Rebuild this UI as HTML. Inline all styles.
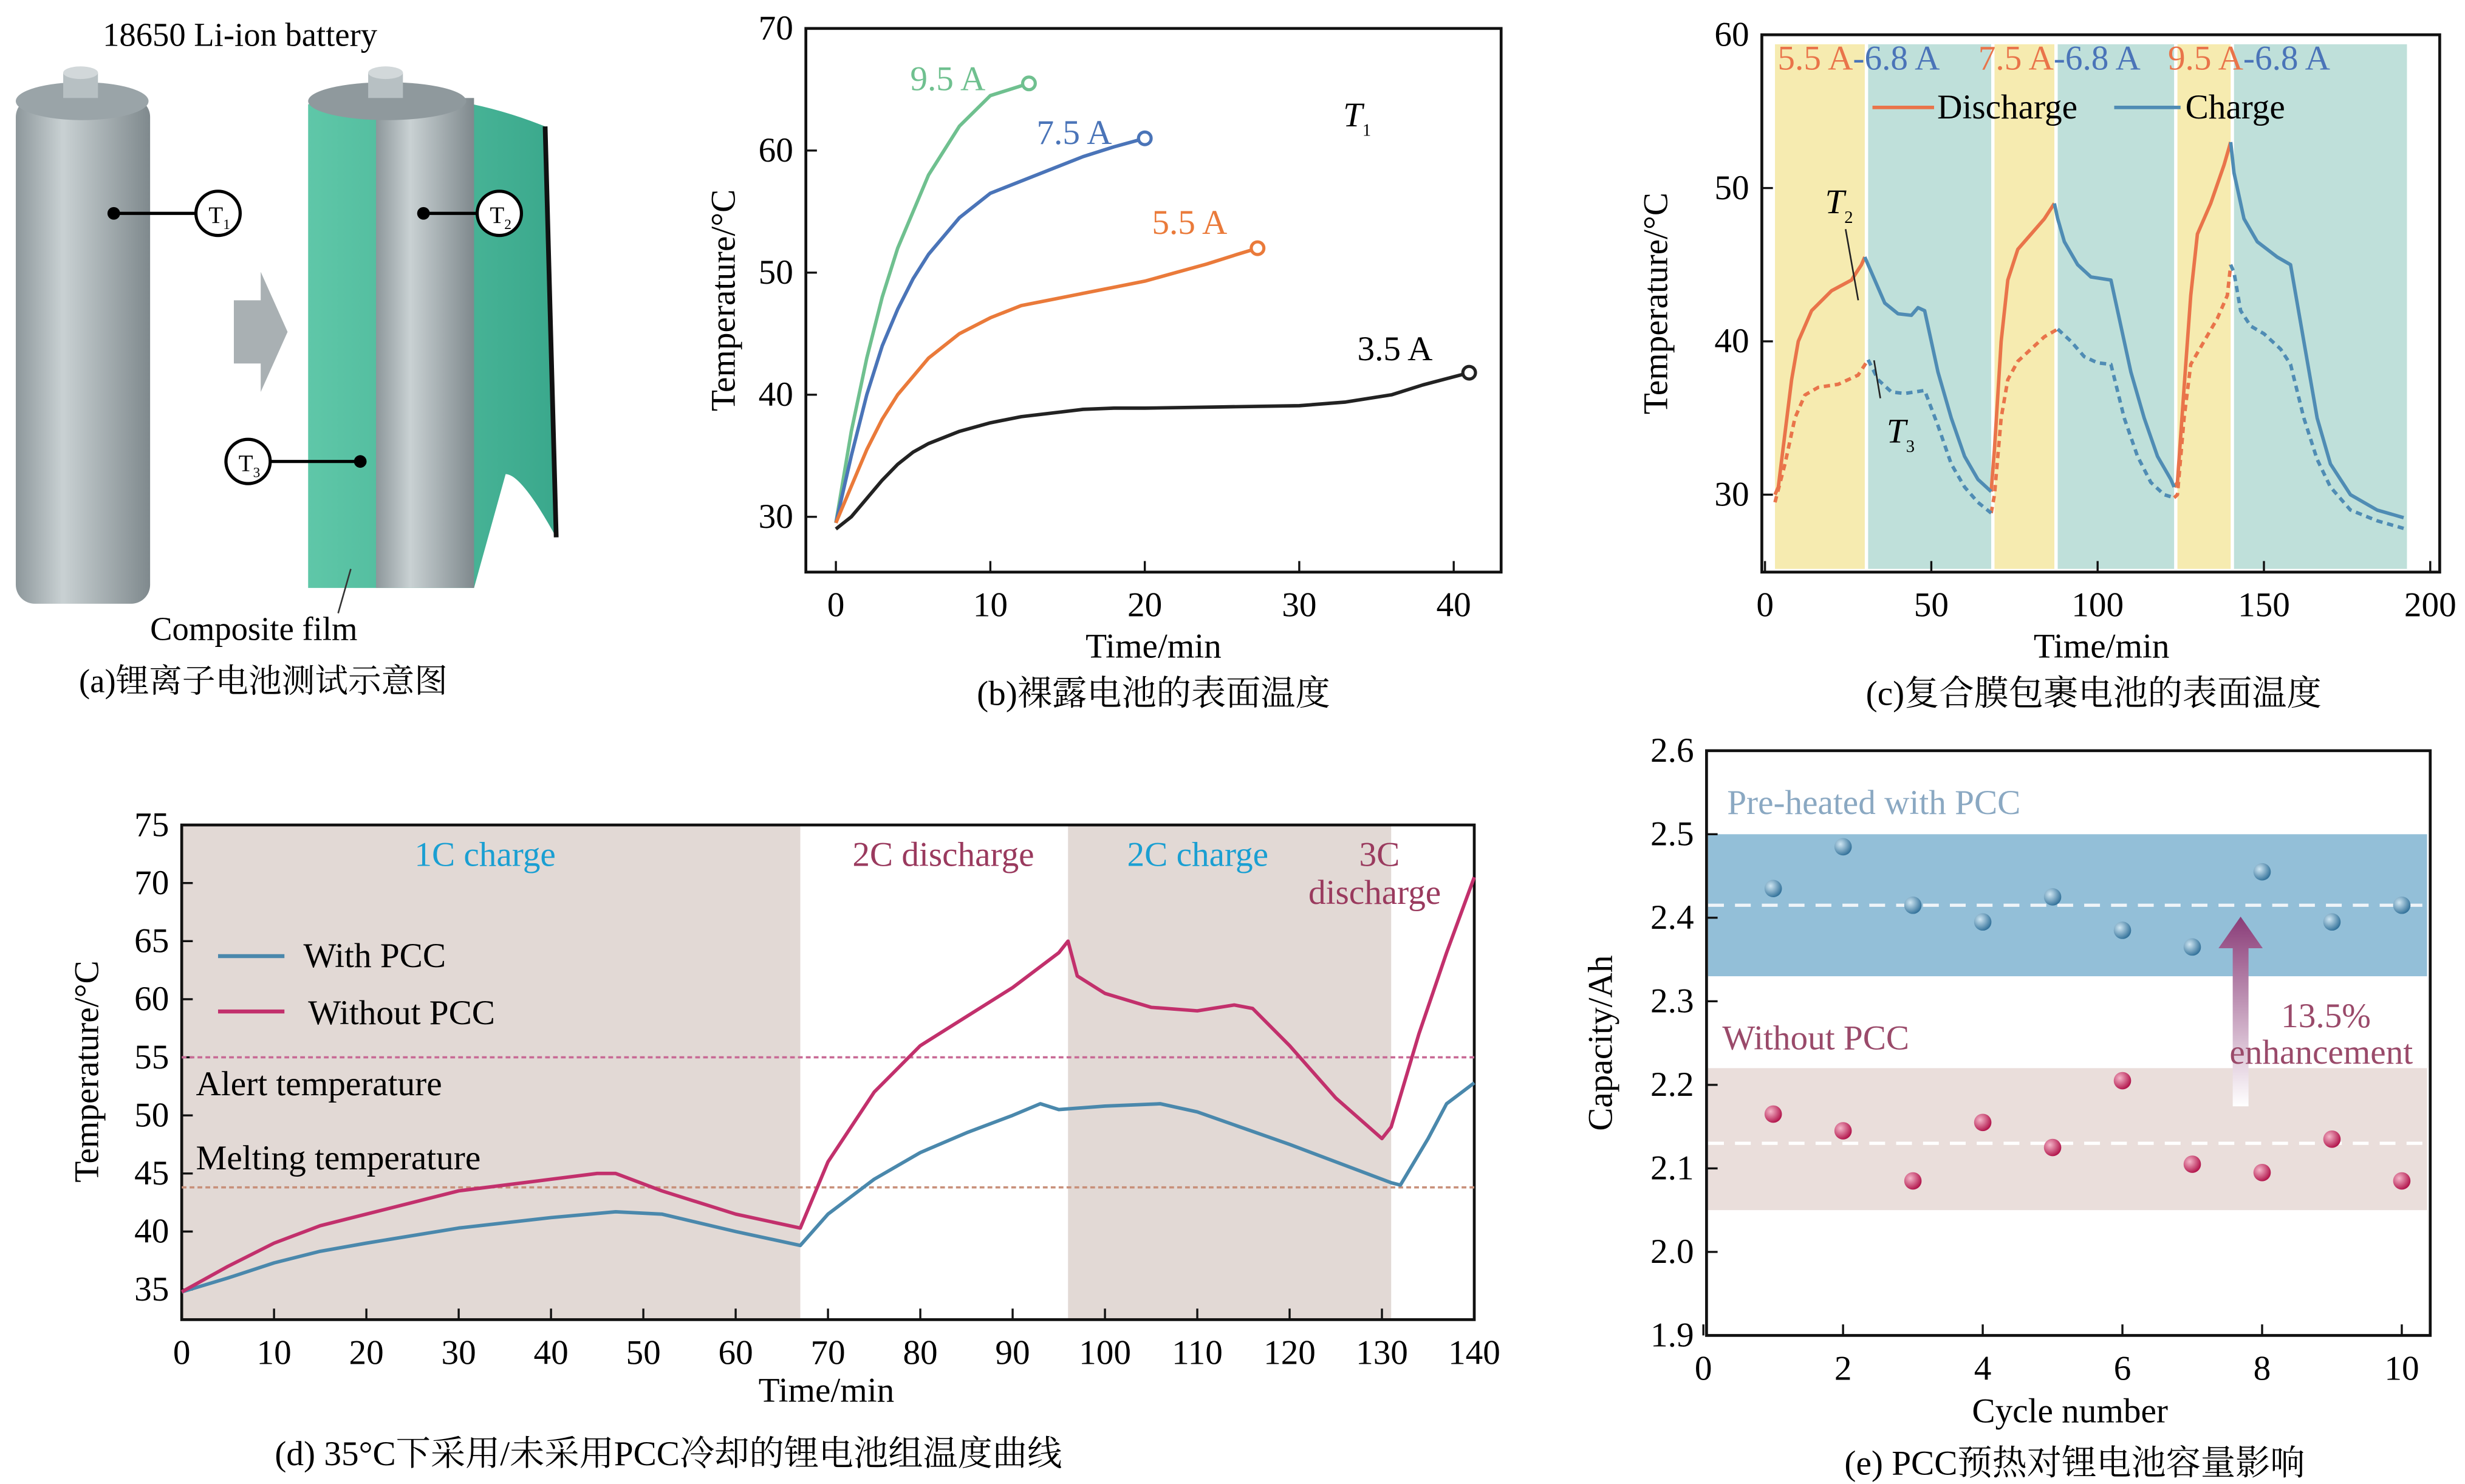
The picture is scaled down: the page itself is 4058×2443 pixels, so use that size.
<!DOCTYPE html>
<html><head><meta charset="utf-8"><style>
html,body{margin:0;padding:0;background:#fff;}
svg{display:block;font-family:"Liberation Serif","Noto Serif CJK SC","Noto Sans CJK SC",serif;}
</style></head><body>
<svg id="fig" width="4058" height="2443" viewBox="0 0 1560 939" preserveAspectRatio="none" xmlns="http://www.w3.org/2000/svg">
<defs>
<linearGradient id="cyl" x1="0" x2="1"><stop offset="0" stop-color="#8d979b"/><stop offset="0.35" stop-color="#c9d1d3"/><stop offset="1" stop-color="#7f898d"/></linearGradient>
<linearGradient id="film" x1="0" x2="1"><stop offset="0" stop-color="#5fc7a8"/><stop offset="1" stop-color="#3aa88c"/></linearGradient>
<linearGradient id="arr" x1="0" y1="1" x2="0" y2="0"><stop offset="0" stop-color="#fff"/><stop offset="1" stop-color="#8a3c78"/></linearGradient>
<radialGradient id="bball" cx="0.35" cy="0.35" r="0.7"><stop offset="0" stop-color="#cfe6f2"/><stop offset="1" stop-color="#2f6f98"/></radialGradient>
<radialGradient id="rball" cx="0.35" cy="0.35" r="0.7"><stop offset="0" stop-color="#f4b6c9"/><stop offset="1" stop-color="#b01048"/></radialGradient>
</defs>
<!-- panel a -->
<g>
<text x="65" y="29" font-size="21">18650 Li-ion battery</text>
<rect x="10" y="62" width="85" height="320" rx="12" fill="url(#cyl)"/>
<ellipse cx="52" cy="64" rx="42" ry="12" fill="#9aa4a8"/>
<rect x="40" y="46" width="22" height="16" fill="#b7c0c3"/><ellipse cx="51" cy="46" rx="11" ry="4" fill="#d2d8da"/>
<path d="M148 190 L165 190 L165 172 L182 210 L165 248 L165 230 L148 230 Z" fill="#a9b0b3"/>
<path d="M195 66 Q270 50 345 80 L352 340 Q330 300 320 300 L300 372 L240 372 L195 372 Z" fill="url(#film)"/>
<path d="M345 80 L352 340" stroke="#111" stroke-width="3"/>
<rect x="238" y="62" width="62" height="310" fill="url(#cyl)"/>
<ellipse cx="245" cy="64" rx="50" ry="12" fill="#8f999d"/>
<rect x="233" y="46" width="22" height="16" fill="#b7c0c3"/><ellipse cx="244" cy="46" rx="11" ry="4" fill="#d2d8da"/>
<line x1="72" y1="135" x2="124" y2="135" stroke="#000" stroke-width="2"/><circle cx="72" cy="135" r="4"/>
<circle cx="138" cy="135" r="14" fill="#fff" stroke="#000" stroke-width="2"/><text x="132" y="141" font-size="15">T<tspan font-size="9" dy="4">1</tspan></text>
<line x1="268" y1="135" x2="302" y2="135" stroke="#000" stroke-width="2"/><circle cx="268" cy="135" r="4"/>
<circle cx="316" cy="135" r="14" fill="#fff" stroke="#000" stroke-width="2"/><text x="310" y="141" font-size="15">T<tspan font-size="9" dy="4">2</tspan></text>
<line x1="171" y1="292" x2="228" y2="292" stroke="#000" stroke-width="2"/><circle cx="228" cy="292" r="4"/>
<circle cx="157" cy="292" r="14" fill="#fff" stroke="#000" stroke-width="2"/><text x="151" y="298" font-size="15">T<tspan font-size="9" dy="4">3</tspan></text>
<line x1="222" y1="360" x2="214" y2="388" stroke="#333"/>
<text x="95" y="405" font-size="21">Composite film</text>
<text x="50" y="438" font-size="21">(a)锂离子电池测试示意图</text>
</g>
<g id="pb"></g>
<g id="pc"></g>
<g id="pd"></g>
<g id="pe"></g>
</svg>
<script>
// ---------- Panel b data ----------
const bXTicks=[0,10,20,30,40];
const bYTicks=[30,40,50,60,70];
const b95t=[0,1,2,3,4,5,6,8,10,12.5];
const b95v=[29.5,37,43,48,52,55,58,62,64.5,65.5];
const b75t=[0,1,2,3,4,5,6,8,10,12,14,16,18,20];
const b75v=[29.5,35,40,44,47,49.5,51.5,54.5,56.5,57.5,58.5,59.5,60.3,61];
const b55t=[0,1,2,3,4,5,6,8,10,12,14,16,18,20,22,24,26,27.3];
const b55v=[29.5,32.5,35.5,38,40,41.5,43,45,46.3,47.3,47.8,48.3,48.8,49.3,50,50.7,51.5,52];
const b35t=[0,1,2,3,4,5,6,8,10,12,14,16,18,20,25,30,33,36,38,41];
const b35v=[29,30,31.5,33,34.3,35.3,36,37,37.7,38.2,38.5,38.8,38.9,38.9,39,39.1,39.4,40,40.8,41.8];
// ---------- Panel c data ----------
const cXTicks=[0,50,100,150,200];
const cYTicks=[30,40,50,60];
const cBandStart=[3,31,69,88,124,141];
const cBandEnd=[30,68,87,123,140,193];
const cBandKind=["d","c","d","c","d","c"];
const cT2dis=[[[3,4,6,8,10,14,20,26,29,30],[30,30.5,34,37.5,40,42,43.3,44,45,45.5]],[[68,69,71,73,76,80,84,87],[30.2,33,40,44,46,47,48,49]],[[123,124,126,128,130,134,138,140],[30.5,30.8,37,43,47,49,51.5,53]]];
const cT2chg=[[[30,33,36,40,44,46,48,52,56,60,64,68],[45.5,44,42.5,41.8,41.7,42.2,42,38,35,32.5,31,30.2]],[[87,88,90,94,98,104,106,110,114,118,122,123],[49,48,46.5,45,44.2,44,42,38,35,32.5,31,30.5]],[[140,141,144,148,154,158,162,166,170,176,184,192],[53,51,48,46.5,45.5,45,40,35,32,30,29,28.5]]];
const cT3dis=[[[3,6,9,12,16,22,28,31],[29.5,32,35,36.5,37,37.2,37.8,38.8]],[[68,69,71,73,76,80,84,88],[28.8,30,35,37.5,38.7,39.5,40.3,40.8]],[[123,124,126,128,132,136,139,140],[29.8,30,35,38.5,40,41.5,43,45]]];
const cT3chg=[[[31,34,38,42,48,52,56,60,64,68],[38.8,37.5,36.7,36.6,36.8,34.5,32,30.5,29.5,28.8]],[[88,92,96,100,104,108,112,116,120,123],[40.8,40,39,38.6,38.5,35,32.5,30.8,30,29.8]],[[140,141,143,146,150,155,158,162,166,170,176,184,192],[45,44.5,42,41,40.5,39.5,38.5,35,32.3,30.5,29,28.3,27.8]]];
// ---------- Panel d data ----------
const dXTicks=[0,10,20,30,40,50,60,70,80,90,100,110,120,130,140];
const dYTicks=[35,40,45,50,55,60,65,70,75];
const dShadeStart=[0,96];
const dShadeEnd=[67,131];
const dAlert=55, dMelt=43.8;
const dWithT=[0,5,10,15,20,30,40,47,52,60,67,70,75,80,85,90,93,95,100,106,110,120,131,132,135,137,140];
const dWithV=[34.8,36,37.3,38.3,39,40.3,41.2,41.7,41.5,40,38.8,41.5,44.5,46.8,48.5,50,51,50.5,50.8,51,50.3,47.5,44.2,44,48,51,52.8];
const dWoT=[0,5,10,15,20,30,40,45,47,52,60,67,70,75,80,85,90,95,96,97,100,105,110,114,116,120,125,130,131,134,137,140];
const dWoV=[34.8,37,39,40.5,41.5,43.5,44.5,45,45,43.5,41.5,40.3,46,52,56,58.5,61,64,65,62,60.5,59.3,59,59.5,59.2,56,51.5,48,49,57,64,70.5];
// ---------- Panel e data ----------
const eXTicks=[0,2,4,6,8,10];
const eYTicks=[1.9,2.0,2.1,2.2,2.3,2.4,2.5,2.6];
const eCycles=[1,2,3,4,5,6,7,8,9,10];
const eWith=[2.435,2.485,2.415,2.395,2.425,2.385,2.365,2.455,2.395,2.415];
const eWithout=[2.165,2.145,2.085,2.155,2.125,2.205,2.105,2.095,2.135,2.085];
const eBandHi=[2.33,2.50], eBandLo=[2.05,2.22];
const eMeanHi=2.415, eMeanLo=2.13;

const NS="http://www.w3.org/2000/svg";
const FS=22;
function mk(parent,tag,attrs,text){const e=document.createElementNS(NS,tag);for(const k in attrs)e.setAttribute(k,attrs[k]);if(text!==undefined)e.textContent=text;parent.appendChild(e);return e;}
function lin(d0,d1,r0,r1){return v=>r0+(v-d0)/(d1-d0)*(r1-r0);}
function pathD(xs,ys,X,Y){return xs.map((t,i)=>(i?"L":"M")+X(t).toFixed(2)+" "+Y(ys[i]).toFixed(2)).join(" ");}
function axes(g,x0,y0,x1,y1,xt,yt,X,Y,xfmt,yfmt){
  const box=mk(g,"rect",{x:x0,y:y0,width:x1-x0,height:y1-y0,fill:"none",stroke:"#111","stroke-width":1.8});
  
  
  xt.forEach(v=>{mk(g,"line",{x1:X(v),x2:X(v),y1:y1,y2:y1-7,stroke:"#111","stroke-width":1.3});
    const t=mk(g,"text",{x:X(v),y:y1+28,"font-size":FS,"text-anchor":"middle"},xfmt(v));
    
    });
  yt.forEach(v=>{mk(g,"line",{x1:x0,x2:x0+7,y1:Y(v),y2:Y(v),stroke:"#111","stroke-width":1.3});
    const t=mk(g,"text",{x:x0-8,y:Y(v)+7,"font-size":FS,"text-anchor":"end"},yfmt(v));
    
    });
}
function label(g,x,y,txt,name,attrs){const t=mk(g,"text",Object.assign({x:x,y:y,"font-size":FS},attrs||{}),txt);
  
  return t;}
function ylabel(g,x,y,txt){const t=mk(g,"text",{x:0,y:0,"font-size":FS,"text-anchor":"middle",transform:`translate(${x},${y}) rotate(-90)`},txt);
  
  }
function series(g,xs,ys,X,Y,color,name,extra){const p=mk(g,"path",Object.assign({d:pathD(xs,ys,X,Y),fill:"none",stroke:color,"stroke-width":2.2,"stroke-linejoin":"round"},extra||{}));
  
  return p;}

// ---- Panel b ----
(function(){const g=document.getElementById("pb");
const X=lin(0,40,529,920),Y=lin(30,70,327,18);
axes(g,510,18,950,362,bXTicks,bYTicks,X,Y,v=>v,v=>v);
[[b95t,b95v,"#6fc08f","series-9-5a"],[b75t,b75v,"#4a74b8","series-7-5a"],[b55t,b55v,"#ea7a3a","series-5-5a"],[b35t,b35v,"#222","series-3-5a"]].forEach(s=>{
  series(g,s[0],s[1],X,Y,s[2],s[3]);
  const n=s[0].length-1;mk(g,"circle",{cx:X(s[0][n]),cy:Y(s[1][n]),r:4,fill:"#fff",stroke:s[2],"stroke-width":2});});
label(g,576,57,"9.5 A","label-9-5a",{fill:"#6fc08f"});
label(g,656,91,"7.5 A","label-7-5a",{fill:"#4a74b8"});
label(g,729,148,"5.5 A","label-5-5a",{fill:"#ea7a3a"});
label(g,859,228,"3.5 A","label-3-5a");
const t=label(g,850,80,"T","t1-label",{"font-style":"italic"});mk(t,"tspan",{"font-size":11,dy:6,"font-style":"normal"},"1");
ylabel(g,465,190,"Temperature/°C");
label(g,730,416,"Time/min","x-axis-title",{"text-anchor":"middle"});
label(g,730,446,"(b)裸露电池的表面温度","caption-b",{"text-anchor":"middle"});
})();

// ---- Panel c ----
(function(){const g=document.getElementById("pc");
const X=lin(0,200,1117,1538),Y=lin(30,60,313,22);
cBandStart.forEach((s,i)=>{const r=mk(g,"rect",{x:X(s),y:28,width:X(cBandEnd[i])-X(s),height:332,fill:cBandKind[i]=="d"?"#f6ebb0":"#bfe0da"});
  
  });
axes(g,1115,22,1544,362,cXTicks,cYTicks,X,Y,v=>v,v=>v);
cT3dis.forEach(s=>series(g,s[0],s[1],X,Y,"#e9744a","t3-discharge",{"stroke-dasharray":"4 3"}));
cT3chg.forEach(s=>series(g,s[0],s[1],X,Y,"#4f8cb4","t3-charge",{"stroke-dasharray":"4 3"}));
cT2dis.forEach(s=>series(g,s[0],s[1],X,Y,"#e9744a","t2-discharge"));
cT2chg.forEach(s=>series(g,s[0],s[1],X,Y,"#4f8cb4","t2-charge"));
const heads=[[1125,"5.5 A","-6.8 A"],[1252,"7.5 A","-6.8 A"],[1372,"9.5 A","-6.8 A"]];
heads.forEach(h=>{const t=label(g,h[0],44,"","phase-current-label");
  mk(t,"tspan",{fill:"#e9744a"},h[1]);mk(t,"tspan",{fill:"#4a74b8"},h[2]);});
mk(g,"line",{x1:1185,x2:1224,y1:68,y2:68,stroke:"#e9744a","stroke-width":2.2});
label(g,1226,75,"Discharge","legend-discharge");
mk(g,"line",{x1:1338,x2:1380,y1:68,y2:68,stroke:"#4f8cb4","stroke-width":2.2});
label(g,1383,75,"Charge","legend-charge");
const t2=label(g,1155,135,"T","t2-label",{"font-style":"italic"});mk(t2,"tspan",{"font-size":11,dy:6,"font-style":"normal"},"2");
mk(g,"line",{x1:1168,y1:145,x2:1176,y2:190,stroke:"#222"});
const t3=label(g,1194,280,"T","t3-label",{"font-style":"italic"});mk(t3,"tspan",{"font-size":11,dy:6,"font-style":"normal"},"3");
mk(g,"line",{x1:1186,y1:228,x2:1190,y2:252,stroke:"#222"});
ylabel(g,1055,192,"Temperature/°C");
label(g,1330,416,"Time/min","x-axis-title",{"text-anchor":"middle"});
label(g,1325,446,"(c)复合膜包裹电池的表面温度","caption-c",{"text-anchor":"middle"});
})();

// ---- Panel d ----
(function(){const g=document.getElementById("pd");
const X=lin(0,140,115,933),Y=lin(35,75,816,522);
dShadeStart.forEach((s,i)=>{const r=mk(g,"rect",{x:X(s),y:522,width:X(dShadeEnd[i])-X(s),height:313,fill:"#e2d9d5"});
  
  });
axes(g,115,522,933,835,dXTicks,dYTicks,X,Y,v=>v,v=>v);
mk(g,"line",{x1:115,x2:933,y1:Y(dAlert),y2:Y(dAlert),stroke:"#c86a95","stroke-width":1.4,"stroke-dasharray":"3 2"});
mk(g,"line",{x1:115,x2:933,y1:Y(dMelt),y2:Y(dMelt),stroke:"#c8907a","stroke-width":1.4,"stroke-dasharray":"3 2"});
series(g,dWithT,dWithV,X,Y,"#4a88ac","with-pcc-line");
series(g,dWoT,dWoV,X,Y,"#c2306c","without-pcc-line");
label(g,307,548,"1C charge","phase-1c-charge",{fill:"#1a9fd2","text-anchor":"middle"});
label(g,597,548,"2C discharge","phase-2c-discharge",{fill:"#9a3a5e","text-anchor":"middle"});
label(g,758,548,"2C charge","phase-2c-charge",{fill:"#1a9fd2","text-anchor":"middle"});
label(g,873,548,"3C","phase-3c",{fill:"#9a3a5e","text-anchor":"middle"});
label(g,870,572,"discharge","phase-3c-discharge",{fill:"#9a3a5e","text-anchor":"middle"});
mk(g,"line",{x1:138,x2:180,y1:605,y2:605,stroke:"#4a88ac","stroke-width":2.5});
label(g,192,612,"With PCC","legend-with-pcc");
mk(g,"line",{x1:138,x2:180,y1:640,y2:640,stroke:"#c2306c","stroke-width":2.5});
label(g,195,648,"Without PCC","legend-without-pcc");
label(g,124,693,"Alert temperature","alert-temperature-label");
label(g,124,740,"Melting temperature","melting-temperature-label");
ylabel(g,62,678,"Temperature/°C");
label(g,523,887,"Time/min","x-axis-title",{"text-anchor":"middle"});
label(g,423,927,"(d) 35°C下采用/未采用PCC冷却的锂电池组温度曲线","caption-d",{"text-anchor":"middle"});
})();

// ---- Panel e ----
(function(){const g=document.getElementById("pe");
const X=lin(0,10,1078,1520),Y=lin(1.9,2.6,845,475);
const bh=mk(g,"rect",{x:1081,y:Y(eBandHi[1]),width:455,height:Y(eBandHi[0])-Y(eBandHi[1]),fill:"#93bfd8"});


const bl=mk(g,"rect",{x:1081,y:Y(eBandLo[1]),width:455,height:Y(eBandLo[0])-Y(eBandLo[1]),fill:"#eadedb"});


mk(g,"line",{x1:1081,x2:1536,y1:Y(eMeanHi),y2:Y(eMeanHi),stroke:"#eef4f8","stroke-width":2,"stroke-dasharray":"10 7"});
mk(g,"line",{x1:1081,x2:1536,y1:Y(eMeanLo),y2:Y(eMeanLo),stroke:"#fff","stroke-width":2,"stroke-dasharray":"10 7"});
axes(g,1080,475,1538,845,eXTicks,eYTicks,X,Y,v=>v,v=>v.toFixed(1));
eCycles.forEach((c,i)=>{
  const p=mk(g,"circle",{cx:X(c),cy:Y(eWith[i]),r:5.5,fill:"url(#bball)"});
  
  
  const q=mk(g,"circle",{cx:X(c),cy:Y(eWithout[i]),r:5.5,fill:"url(#rball)"});
  
  });
const a=mk(g,"path",{d:"M1413 700 L1413 600 L1404 600 L1418 580 L1432 600 L1423 600 L1423 700 Z",fill:"url(#arr)"});


label(g,1093,515,"Pre-heated with PCC","pcc-group-label",{fill:"#8aa8c2"});
label(g,1090,664,"Without PCC","no-pcc-group-label",{fill:"#9a4a6a"});
label(g,1472,650,"13.5%","enhancement-value",{fill:"#9a4a6a","text-anchor":"middle"});
label(g,1469,673,"enhancement","enhancement-label",{fill:"#9a4a6a","text-anchor":"middle"});
ylabel(g,1020,660,"Capacity/Ah");
label(g,1310,900,"Cycle number","x-axis-title",{"text-anchor":"middle"});
label(g,1313,933,"(e) PCC预热对锂电池容量影响","caption-e",{"text-anchor":"middle"});
})();
</script>
</body></html>
